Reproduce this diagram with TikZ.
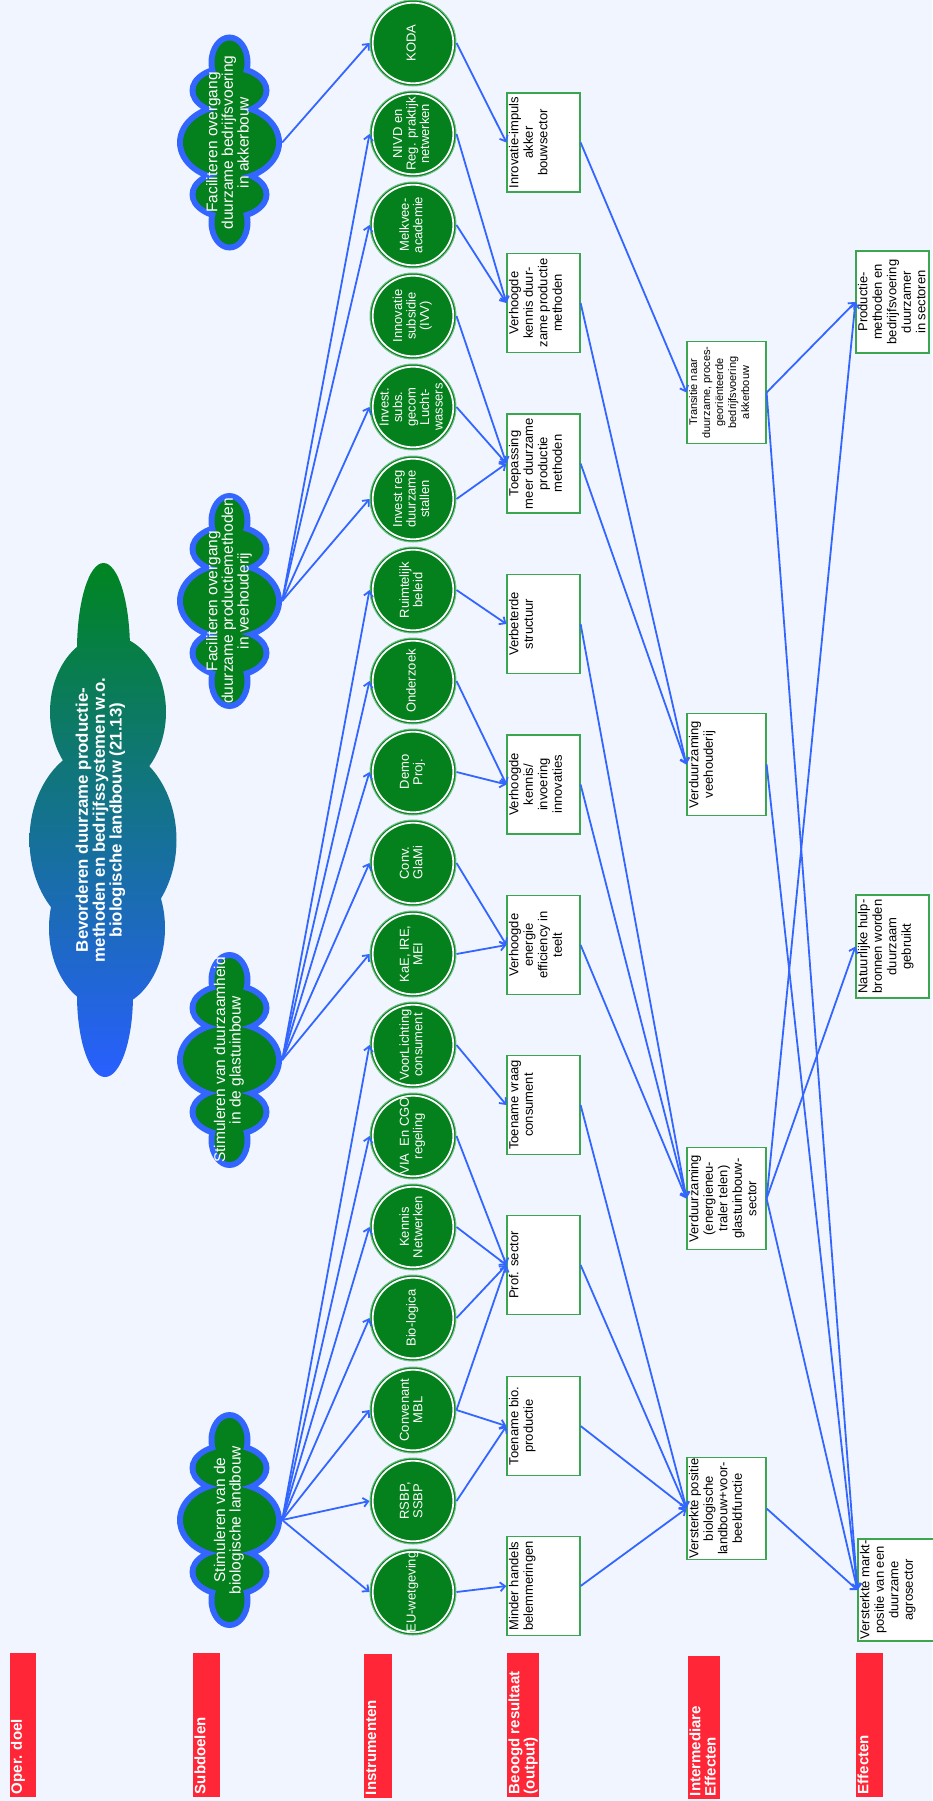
\documentclass[tikz,border=0pt]{standalone}
\usepackage{fontspec}
\setmainfont{Liberation Sans}
\usepackage{graphicx}
\usetikzlibrary{arrows.meta,calc}
\definecolor{bg}{RGB}{240,245,255}
\definecolor{lnblue}{RGB}{51,102,255}
\definecolor{cgreen}{RGB}{4,128,28}
\definecolor{ringgreen}{RGB}{120,195,140}
\definecolor{boxgreen}{RGB}{60,165,80}
\definecolor{barred}{RGB}{255,38,56}
\definecolor{topgreen}{RGB}{0,133,32}
\definecolor{botblue}{RGB}{40,95,255}
\newcommand\rtc[1]{\rotatebox{90}{\begin{tabular}{@{}c@{}}#1\end{tabular}}}
\newcommand\rtl[1]{\rotatebox{90}{\begin{tabular}{@{}l@{}}#1\end{tabular}}}
\newcommand\subcloud[2]{%
  \begin{scope}[shift={(#1,#2)}]
    \fill[lnblue] (0,-80) ellipse[x radius=21pt,y radius=28pt]
      (0,-52) ellipse[x radius=40pt,y radius=26pt]
      (0,0) ellipse[x radius=52.5pt,y radius=40pt]
      (0,52) ellipse[x radius=40pt,y radius=26pt]
      (0,80) ellipse[x radius=21pt,y radius=28pt];
    \fill[cgreen] (0,-80) ellipse[x radius=15pt,y radius=22pt]
      (0,-52) ellipse[x radius=34pt,y radius=20pt]
      (0,0) ellipse[x radius=46.5pt,y radius=34pt]
      (0,52) ellipse[x radius=34pt,y radius=20pt]
      (0,80) ellipse[x radius=15pt,y radius=22pt];
  \end{scope}}
\tikzset{
  conn/.style={draw=lnblue, line width=1.8pt, -{Straight Barb[length=5pt,width=9pt]}},
  circ/.style={circle, minimum size=86pt, inner sep=0pt, fill=cgreen, draw=ringgreen,
    line width=1pt, text=white, font=\fontsize{13}{13.5}\selectfont,
    path picture={\draw[white, line width=1.8pt] (path picture bounding box.center) circle[radius=40.3pt];}},
  obox/.style={rectangle, draw=boxgreen, line width=1.2pt, fill=white,
    minimum width=73pt, minimum height=99pt, inner sep=0pt},
  ibox/.style={obox, minimum width=79pt, minimum height=102pt},
  btext/.style={anchor=west, inner sep=0pt, xshift=1.5pt, font=\fontsize{13}{14.5}\selectfont},
  bar/.style={rectangle, fill=barred, inner sep=0pt, minimum height=144pt},
  bartext/.style={anchor=south west, inner sep=0pt, xshift=1.5pt, yshift=3pt, text=white,
    font=\bfseries\fontsize{15}{15}\selectfont},
  cloudtext/.style={text=white, inner sep=0pt, minimum width=105pt, minimum height=215pt,
    font=\fontsize{15.5}{14.5}\selectfont},
}
\begin{document}
\begin{tikzpicture}[x=1pt,y=-1pt]
\fill[bg] (0,0) rectangle (932,1801);
\useasboundingbox (0,0) rectangle (932,1801);

% main goal cloud
\shade[top color=topgreen, bottom color=botblue]
  (103.5,650) ellipse[x radius=26.5pt,y radius=87pt]
  (108,712) ellipse[x radius=58pt,y radius=77pt]
  (103,840) ellipse[x radius=73.5pt,y radius=95pt]
  (107,928) ellipse[x radius=58pt,y radius=80pt]
  (105,995) ellipse[x radius=28pt,y radius=82pt];
\node[text=white, inner sep=0pt, font=\bfseries\fontsize{16.8}{15.5}\selectfont] (goal) at (101,820)
  {\rtc{Bevorderen duurzame productie-\\methoden en bedrijfssystemen w.o.\\biologische landbouw (21.13)}};

% sub goal clouds
\subcloud{229.5}{142.5}
\subcloud{229.5}{601}
\subcloud{229.5}{1060}
\subcloud{229.5}{1520}
\node[cloudtext] (c1) at (229.5,142.5) {\rtc{Faciliteren overgang\\duurzame bedrijfsvoering\\in akkerbouw}};
\node[cloudtext] (c2) at (229.5,601) {\rtc{Faciliteren overgang\\duurzame productiemethoden\\in veehouderij}};
\node[cloudtext] (c3) at (229.5,1060) {\rtc{Stimuleren van duurzaamheid\\in de glastuinbouw}};
\node[cloudtext] (c4) at (229.5,1520) {\rtc{Stimuleren van de\\biologische landbouw}};

% instruments
\node[circ] (I1) at (413,43) {\rtc{KODA}};
\node[circ] (I2) at (413,134) {\rtc{NIVD en\\Reg. praktijk\\netwerken}};
\node[circ] (I3) at (413,225) {\rtc{Melkvee-\\academie}};
\node[circ] (I4) at (413,316) {\rtc{Innovatie\\subsidie\\(IVV)}};
\node[circ] (I5) at (413,407) {\rtc{Invest.\\subs.\\gecom\\Lucht-\\wassers}};
\node[circ] (I6) at (413,499) {\rtc{Invest reg\\duurzame\\stallen}};
\node[circ] (I7) at (413,590) {\rtc{Ruimtelijk\\beleid}};
\node[circ] (I8) at (413,681) {\rtc{Onderzoek}};
\node[circ] (I9) at (413,772) {\rtc{Demo\\Proj.}};
\node[circ] (I10) at (413,863) {\rtc{Conv.\\GlaMi}};
\node[circ] (I11) at (413,954) {\rtc{KaE, IRE,\\MEI}};
\node[circ] (I12) at (413,1045) {\rtc{VoorLichting\\consument}};
\node[circ] (I13) at (413,1136) {\rtc{VIA\ \ En CGO\\regeling}};
\node[circ] (I14) at (413,1227) {\rtc{Kennis\\Netwerken}};
\node[circ] (I15) at (413,1318) {\rtc{Bio-logica}};
\node[circ] (I16) at (413,1410) {\rtc{Convenant\\MBL}};
\node[circ] (I17) at (413,1501) {\rtc{RSBP,\\SSBP}};
\node[circ] (I18) at (413,1592) {\rtc{EU-wetgeving}};

% outputs
\node[obox] (O1) at (543.5,142.5) {};
\node[obox] (O2) at (543.5,303) {};
\node[obox] (O3) at (543.5,463.5) {};
\node[obox] (O4) at (543.5,624) {};
\node[obox] (O5) at (543.5,784.5) {};
\node[obox] (O6) at (543.5,945) {};
\node[obox] (O7) at (543.5,1105) {};
\node[obox] (O8) at (543.5,1265) {};
\node[obox] (O9) at (543.5,1426) {};
\node[obox] (O10) at (543.5,1586) {};
\node[btext] (O1t) at (O1.west) {\rtc{Inrovatie-impuls\\akker\\bouwsector}};
\node[btext] (O2t) at (O2.west) {\rtc{Verhoogde\\kennis duur-\\zame productie\\methoden}};
\node[btext] (O3t) at (O3.west) {\rtc{Toepassing\\meer duurzame\\productie\\methoden}};
\node[btext] (O4t) at (O4.west) {\rtc{Verbeterde\\structuur}};
\node[btext] (O5t) at (O5.west) {\rtc{Verhoogde\\kennis/\\invoering\\innovaties}};
\node[btext] (O6t) at (O6.west) {\rtc{Verhoogde\\energie\\efficiency in\\teelt}};
\node[btext] (O7t) at (O7.west) {\rtc{Toename vraag\\consument}};
\node[btext] (O8t) at (O8.west) {\rtc{Prof. sector}};
\node[btext] (O9t) at (O9.west) {\rtc{Toename bio.\\productie}};
\node[btext] (O10t) at (O10.west) {\rtc{Minder handels\\belemmeringen}};

% intermediate effects
\node[ibox] (T1) at (726.5,392.5) {};
\node[ibox] (T2) at (726.5,764.5) {};
\node[ibox] (T3) at (726.5,1198.5) {};
\node[ibox] (T4) at (726.5,1508.5) {};
\node[btext, font=\fontsize{11}{13}\selectfont] (T1t) at (T1.west) {\rtc{Transitie naar\\duurzame, proces-\\georiënteerde\\bedrijfsvoering\\akkerbouw}};
\node[btext] (T2t) at (T2.west) {\rtc{Verduurzaming\\veehouderij}};
\node[btext] (T3t) at (T3.west) {\rtc{Verduurzaming\\(energieneu-\\traler telen)\\glastuinbouw-\\sector}};
\node[btext] (T4t) at (T4.west) {\rtc{Versterkte positie\\biologische\\landbouw+voor-\\beeldfunctie}};

% effects
\node[obox, minimum height=102pt] (E1) at (892.5,302) {};
\node[obox, minimum height=103pt] (E2) at (892.5,946.5) {};
\node[obox, minimum width=76pt, minimum height=102pt] (E3) at (896,1590) {};
\node[btext] (E1t) at (E1.west) {\rtc{Productie-\\methoden en\\bedrijfsvoering\\duurzamer\\in sectoren}};
\node[btext] (E2t) at (E2.west) {\rtc{Natuurlijke hulp-\\bronnen worden\\duurzaam\\gebruikt}};
\node[btext] (E3t) at (E3.west) {\rtc{Versterkte markt-\\positie van een\\duurzame\\agrosector}};

% column labels
\node[bar, minimum width=26.5pt] (R1) at (22.75,1725) {};
\node[bar, minimum width=27pt] (R2) at (206.5,1725) {};
\node[bar, minimum width=28pt] (R3) at (378,1726) {};
\node[bar, minimum width=32pt] (R4) at (523,1725) {};
\node[bar, minimum width=32pt, minimum height=143pt] (R5) at (704,1727.5) {};
\node[bar, minimum width=27pt] (R6) at (869.5,1725) {};
\node[bartext] (R1t) at (R1.south west) {\rtl{Oper. doel}};
\node[bartext] (R2t) at (R2.south west) {\rtl{Subdoelen}};
\node[bartext] (R3t) at (R3.south west) {\rtl{Instrumenten}};
\node[bartext] (R4t) at (R4.south west) {\rtl{Beoogd resultaat\\(output)}};
\node[bartext] (R5t) at (R5.south west) {\rtl{Intermediare\\Effecten}};
\node[bartext] (R6t) at (R6.south west) {\rtl{Effecten}};

% connectors: subgoals -> instruments
\draw[conn] (c1.east) -- (I1.west);
\foreach \i in {2,3,5,6} \draw[conn] (c2.east) -- (I\i.west);
\foreach \i in {7,8,9,10,11} \draw[conn] (c3.east) -- (I\i.west);
\foreach \i in {12,13,14,15,16,17,18} \draw[conn] (c4.east) -- (I\i.west);
% instruments -> outputs
\draw[conn] (I1.east) -- (O1.west);
\draw[conn] (I2.east) -- (O2.west);
\draw[conn] (I3.east) -- (O2.west);
\draw[conn] (I4.east) -- (O3.west);
\draw[conn] (I5.east) -- (O3.west);
\draw[conn] (I6.east) -- (O3.west);
\draw[conn] (I7.east) -- (O4.west);
\draw[conn] (I8.east) -- (O5.west);
\draw[conn] (I9.east) -- (O5.west);
\draw[conn] (I10.east) -- (O6.west);
\draw[conn] (I11.east) -- (O6.west);
\draw[conn] (I12.east) -- (O7.west);
\draw[conn] (I13.east) -- (O8.west);
\draw[conn] (I14.east) -- (O8.west);
\draw[conn] (I15.east) -- (O8.west);
\draw[conn] (I16.east) -- (O8.west);
\draw[conn] (I16.east) -- (O9.west);
\draw[conn] (I17.east) -- (O9.west);
\draw[conn] (I18.east) -- (O10.west);
% outputs -> intermediate
\draw[conn] (O1.east) -- (T1.west);
\draw[conn] (O2.east) -- (T2.west);
\draw[conn] (O3.east) -- (T2.west);
\draw[conn] (O4.east) -- (T3.west);
\draw[conn] (O5.east) -- (T3.west);
\draw[conn] (O6.east) -- (T3.west);
\draw[conn] (O7.east) -- (T4.west);
\draw[conn] (O8.east) -- (T4.west);
\draw[conn] (O9.east) -- (T4.west);
\draw[conn] (O10.east) -- (T4.west);
% intermediate -> effects
\draw[conn] (T1.east) -- (E1.west);
\draw[conn] (T1.east) -- (E3.west);
\draw[conn] (T2.east) -- (E3.west);
\draw[conn] (T3.east) -- (E1.west);
\draw[conn] (T3.east) -- (E2.west);
\draw[conn] (T3.east) -- (E3.west);
\draw[conn] (T4.east) -- (E3.west);
\end{tikzpicture}
\end{document}
